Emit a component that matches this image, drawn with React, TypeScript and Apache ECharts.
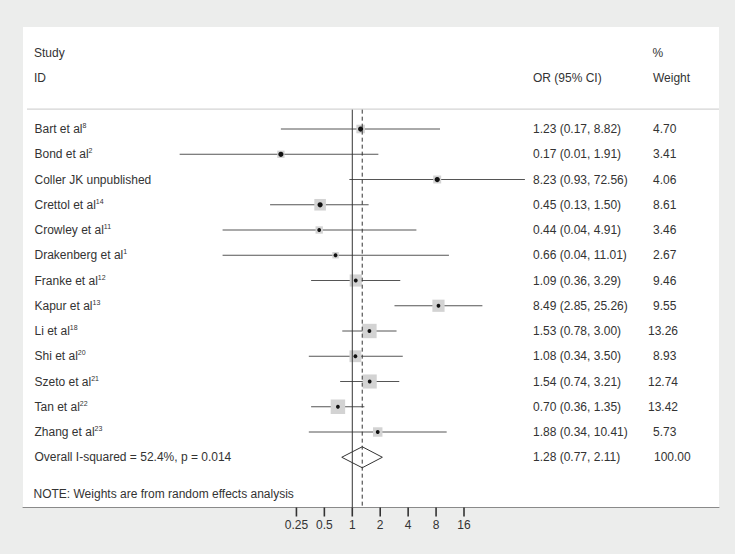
import React, { useEffect, useRef } from 'react';
import * as echarts from 'echarts';

// ---------------- data ----------------
const studies = [
  'Bart et al',
  'Bond et al',
  'Coller JK unpublished',
  'Crettol et al',
  'Crowley et al',
  'Drakenberg et al',
  'Franke et al',
  'Kapur et al',
  'Li et al',
  'Shi et al',
  'Szeto et al',
  'Tan et al',
  'Zhang et al',
];
const refs = ['8', '2', '', '14', '11', '1', '12', '13', '18', '20', '21', '22', '23'];
const oddsRatios = [1.23, 0.17, 8.23, 0.45, 0.44, 0.66, 1.09, 8.49, 1.53, 1.08, 1.54, 0.7, 1.88];
const ciLower = [0.17, 0.01, 0.93, 0.13, 0.04, 0.04, 0.36, 2.85, 0.78, 0.34, 0.74, 0.36, 0.34];
const ciUpper = [8.82, 1.91, 72.56, 1.5, 4.91, 11.01, 3.29, 25.26, 3.0, 3.5, 3.21, 1.35, 10.41];
const weights = [4.7, 3.41, 4.06, 8.61, 3.46, 2.67, 9.46, 9.55, 13.26, 8.93, 12.74, 13.42, 5.73];

const overallLabel = 'Overall I-squared = 52.4%, p = 0.014';
const overallOR = 1.28;
const overallLower = 0.77;
const overallUpper = 2.11;
const overallWeight = 100.0;

const tickValues = [0.25, 0.5, 1, 2, 4, 8, 16];
const nullValue = 1;
const noteText = 'NOTE: Weights are from random effects analysis';
const headerStudy = ['Study', 'ID'];
const headerCI = 'OR (95% CI)';
const headerWeight = ['%', 'Weight'];

// ---------------- layout / style ----------------
const FONT = '"Liberation Sans", Arial, Helvetica, sans-serif';
const TXT = '#333333';
const plotLimit = Math.max(...ciUpper); // symmetric plotting range (1/limit .. limit)
const lg = (v: number) => Math.log2(v);
const clampLo = (v: number) => Math.max(v, 1 / plotLimit);

const ROW_TOP_HEADER = -0.79; // row coordinate of the header rule
const Y_MIN = -4.04;
const Y_MAX = 14.99;

const App: React.FC = () => {
  const ref = useRef<HTMLDivElement>(null);

  useEffect(() => {
    if (!ref.current) return;
    const chart = echarts.init(ref.current, undefined, { renderer: 'svg' });

    const n = studies.length;
    const overallRow = n;

    const ciData = studies.map((_, i) => [
      i,
      lg(oddsRatios[i]),
      lg(clampLo(ciLower[i])),
      lg(ciUpper[i]),
      weights[i],
    ]);

    const fmtCI = (o: number, l: number, u: number) =>
      `${o.toFixed(2)} (${l.toFixed(2)}, ${u.toFixed(2)})`;

    const tableRows = [
      ...studies.map((s, i) => ({
        label: refs[i] ? `{a|${s}}{s|${refs[i]}}` : `{a|${s}}`,
        ci: fmtCI(oddsRatios[i], ciLower[i], ciUpper[i]),
        weight: weights[i],
        row: i,
      })),
      {
        label: `{a|${overallLabel}}`,
        ci: fmtCI(overallOR, overallLower, overallUpper),
        weight: overallWeight,
        row: overallRow,
      },
    ];

    const weightX = (w: number) => (w >= 100 ? 654 : w >= 10 ? 648 : 653);

    const textStyleBase = {
      fontFamily: FONT,
      fontSize: 12,
      fill: TXT,
    };

    const option: any = {
      animation: false,
      backgroundColor: '#ecedec',
      grid: {
        left: 23,
        right: 16,
        top: 27,
        bottom: 46.5,
        show: true,
        backgroundColor: '#ffffff',
        borderWidth: 0,
      },
      xAxis: {
        type: 'value',
        min: -11.79,
        max: 13.13,
        splitLine: { show: false },
        axisLine: { show: true, onZero: false, lineStyle: { color: '#8a8a8a', width: 1 } },
        axisTick: { show: false },
        axisLabel: {
          customValues: tickValues.map(lg),
          formatter: (v: number) => String(Math.round(Math.pow(2, v) * 10000) / 10000),
          margin: 11,
          color: TXT,
          fontSize: 12,
          fontFamily: FONT,
        },
      },
      yAxis: {
        type: 'value',
        inverse: true,
        min: Y_MIN,
        max: Y_MAX,
        show: false,
        axisLine: { onZero: false },
        splitLine: { show: false },
      },
      series: [
        // header rule
        {
          type: 'custom',
          silent: true,
          data: [[0, ROW_TOP_HEADER]],
          encode: { x: 0, y: 1 },
          renderItem: (params: any, api: any) => {
            const p = api.coord([0, api.value(1)]);
            return {
              type: 'line',
              shape: { x1: 27, y1: p[1], x2: 719, y2: p[1] },
              style: { stroke: '#d4d4d4', lineWidth: 1.2 },
            };
          },
        },
        // study CIs, squares, dots
        {
          type: 'custom',
          silent: true,
          data: ciData,
          encode: { x: [1, 2, 3], y: 0 },
          renderItem: (params: any, api: any) => {
            const i = api.value(0);
            const pOr = api.coord([api.value(1), i]);
            const pLo = api.coord([api.value(2), i]);
            const pHi = api.coord([api.value(3), i]);
            const s = 3.95 * Math.sqrt(api.value(4));
            return {
              type: 'group',
              children: [
                {
                  type: 'line',
                  shape: { x1: pLo[0], y1: pLo[1], x2: pHi[0], y2: pHi[1] },
                  style: { stroke: '#555555', lineWidth: 1 },
                },
                {
                  type: 'rect',
                  shape: { x: pOr[0] - s / 2, y: pOr[1] - s / 2, width: s, height: s },
                  style: { fill: '#d3d3d3' },
                },
                {
                  type: 'circle',
                  shape: { cx: pOr[0], cy: pOr[1], r: i < 4 ? 2.6 : 1.9 },
                  style: { fill: '#111111' },
                },
              ],
            };
          },
        },
        // overall diamond
        {
          type: 'custom',
          silent: true,
          data: [[overallRow, lg(overallOR), lg(overallLower), lg(overallUpper)]],
          encode: { x: [1, 2, 3], y: 0 },
          renderItem: (params: any, api: any) => {
            const r = api.value(0);
            const pOr = api.coord([api.value(1), r]);
            const pLo = api.coord([api.value(2), r]);
            const pHi = api.coord([api.value(3), r]);
            const h = 10.5;
            return {
              type: 'polygon',
              shape: {
                points: [
                  [pLo[0], pLo[1]],
                  [pOr[0], pOr[1] - h],
                  [pHi[0], pHi[1]],
                  [pOr[0], pOr[1] + h],
                ],
              },
              style: { fill: 'none', stroke: '#333333', lineWidth: 1 },
            };
          },
        },
        // reference lines (null solid, overall dashed)
        {
          type: 'custom',
          silent: true,
          data: [
            [lg(nullValue), 0],
            [lg(overallOR), 1],
          ],
          encode: { x: 0 },
          renderItem: (params: any, api: any) => {
            const x = api.value(0);
            const kind = api.value(1);
            const p1 = api.coord([x, ROW_TOP_HEADER]);
            const p2 = api.coord([x, Y_MAX]);
            return {
              type: 'line',
              shape: { x1: p1[0], y1: p1[1] + 0.6, x2: p2[0], y2: p2[1] },
              style: {
                stroke: '#333333',
                lineWidth: 1,
                lineDash: kind === 1 ? [4, 3] : null,
              },
            };
          },
        },
        // table text
        {
          type: 'custom',
          silent: true,
          data: tableRows.map((r) => [0, r.row]),
          encode: { y: 1 },
          renderItem: (params: any, api: any) => {
            const r = tableRows[params.dataIndex];
            const y = api.coord([0, api.value(1)])[1];
            return {
              type: 'group',
              children: [
                {
                  type: 'text',
                  style: {
                    text: r.label,
                    x: 34.5,
                    y,
                    verticalAlign: 'middle',
                    align: 'left',
                    rich: {
                      a: { fontFamily: FONT, fontSize: 12, fill: TXT, lineHeight: 14 },
                      s: {
                        fontFamily: FONT,
                        fontSize: 7,
                        fill: TXT,
                        lineHeight: 8,
                        verticalAlign: 'top',
                      },
                    },
                  },
                },
                {
                  type: 'text',
                  style: {
                    ...textStyleBase,
                    text: r.ci,
                    x: 533,
                    y,
                    verticalAlign: 'middle',
                    align: 'left',
                  },
                },
                {
                  type: 'text',
                  style: {
                    ...textStyleBase,
                    text: r.weight.toFixed(2),
                    x: weightX(r.weight),
                    y,
                    verticalAlign: 'middle',
                    align: 'left',
                  },
                },
              ],
            };
          },
        },
      ],
      graphic: [
        {
          id: 'h-study',
          type: 'text',
          z: 100,
          style: { ...textStyleBase, text: headerStudy[0], x: 34, y: 52.5, verticalAlign: 'middle' },
        },
        {
          id: 'h-id',
          type: 'text',
          z: 100,
          style: { ...textStyleBase, text: headerStudy[1], x: 34, y: 78, verticalAlign: 'middle' },
        },
        {
          id: 'h-ci',
          type: 'text',
          z: 100,
          style: { ...textStyleBase, text: headerCI, x: 533, y: 78, verticalAlign: 'middle' },
        },
        {
          id: 'h-pct',
          type: 'text',
          z: 100,
          style: { ...textStyleBase, text: headerWeight[0], x: 652.5, y: 52.5, verticalAlign: 'middle' },
        },
        {
          id: 'h-weight',
          type: 'text',
          z: 100,
          style: { ...textStyleBase, text: headerWeight[1], x: 653, y: 78, verticalAlign: 'middle' },
        },
        {
          id: 'note',
          type: 'text',
          z: 100,
          style: { ...textStyleBase, text: noteText, x: 33.5, y: 494, verticalAlign: 'middle' },
        },
      ],
    };

    chart.setOption(option);

    // axis tick marks, positioned through the chart's own x scale
    const axisY = chart.convertToPixel({ yAxisIndex: 0 }, Y_MAX) as number;
    const tickEls = tickValues.map((t, k) => {
      const px = chart.convertToPixel({ xAxisIndex: 0 }, lg(t)) as number;
      return {
        id: `tick-${k}`,
        type: 'rect',
        z: 100,
        silent: true,
        shape: { x: px - 0.8, y: axisY, width: 1.6, height: 9 },
        style: { fill: '#333333' },
      };
    });
    chart.setOption({ graphic: tickEls });

    return () => {
      chart.dispose();
    };
  }, []);

  return (
    <div
      ref={ref}
      style={{ position: 'fixed', left: 0, top: 0, width: 735, height: 554 }}
    />
  );
};

export default App;
